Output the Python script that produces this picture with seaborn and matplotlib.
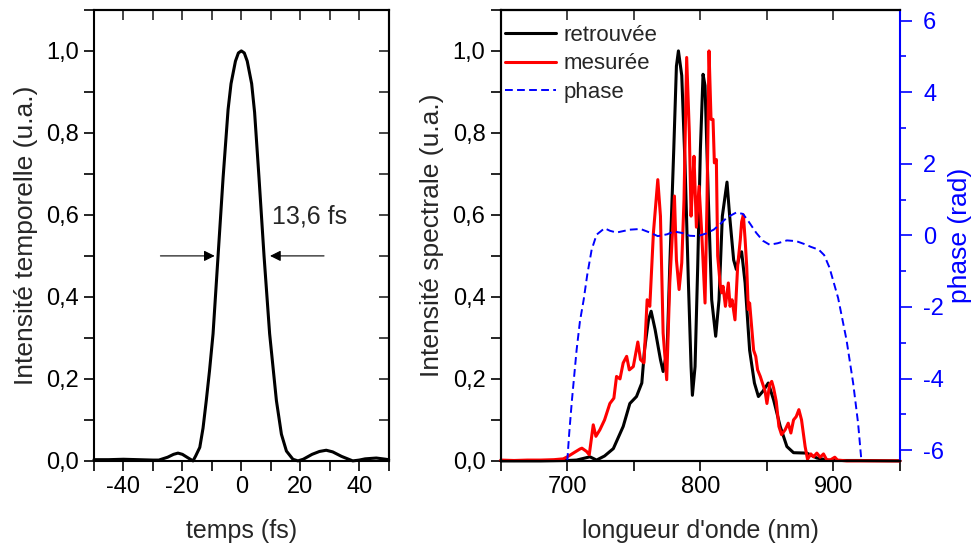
import matplotlib
matplotlib.use("Agg")
import matplotlib.pyplot as plt
from matplotlib.ticker import MultipleLocator, FuncFormatter, NullFormatter
import seaborn as sns

# --- Données ---

# Intensité temporelle (panneau gauche)
t_fs = [-50, -45, -40, -35, -30, -28, -25, -23, -21.5, -20, -18, -16.4, -15.5, -14.1, -13,
        -11.9, -10.8, -9.6, -7.9, -6.2, -4.5, -3.5, -2.0, -1.0, 0, 1.0, 2.0, 3.5, 4.5, 6.0,
        7.7, 9.6, 11.9, 13.6, 15.3, 17.5, 19.2, 21, 24, 26.5, 28.8, 31, 34, 37.8, 40, 42,
        45.8, 48, 50]
I_temp = [0.003, 0.003, 0.004, 0.003, 0.002, 0.002, 0.009, 0.016, 0.019, 0.016, 0.007, 0.0,
          0.012, 0.033, 0.08, 0.147, 0.22, 0.31, 0.5, 0.69, 0.857, 0.92, 0.975, 0.995, 1.0,
          0.995, 0.975, 0.92, 0.85, 0.69, 0.5, 0.31, 0.147, 0.065, 0.024, 0.004, 0.0, 0.004,
          0.016, 0.023, 0.026, 0.022, 0.011, 0.0, 0.002, 0.005, 0.007, 0.005, 0.003]
fwhm_txt = "13,6 fs"

# Spectre retrouvé (noir)
lam_ret = [650, 680, 700, 707, 712, 717, 722, 728, 734.6, 742, 747, 752, 756, 758, 761, 763,
           766, 770, 772, 775, 777, 780, 782, 783.5, 786, 788.5, 791, 793, 794, 796, 798, 800,
           802, 803.5, 806, 808.5, 811.5, 814, 816.5, 820, 822, 825, 827, 829.3, 831, 833.6,
           837, 840.6, 843.6, 847, 851, 855, 860, 865, 870, 880, 887.5, 897.5, 920, 950]
I_ret = [0, 0, 0.001, 0.002, 0.006, 0.01, 0.002, 0.012, 0.03, 0.084, 0.14, 0.157, 0.19, 0.27,
         0.344, 0.365, 0.32, 0.247, 0.218, 0.27, 0.475, 0.76, 0.963, 1.0, 0.94, 0.72, 0.434,
         0.23, 0.16, 0.23, 0.475, 0.76, 0.943, 0.915, 0.637, 0.393, 0.304, 0.393, 0.597, 0.68,
         0.597, 0.49, 0.467, 0.5, 0.51, 0.434, 0.27, 0.19, 0.157, 0.17, 0.19, 0.149, 0.084,
         0.035, 0.02, 0.019, 0.007, 0.001, 0.001, 0]

# Spectre mesuré (rouge)
lam_mes = [650, 660, 670, 680, 690, 697, 700, 704.5, 709.5, 711, 714.5, 716.5, 719.5, 721.5,
           724.5, 728, 732, 735, 737, 739.6, 742, 744.6, 746.6, 749.6, 753, 755, 757.6, 760,
           762, 764.7, 768, 770, 772, 774.7, 777, 780.5, 782, 784, 786, 787.7, 789.7, 791.7,
           793, 794.2, 795.2, 797, 799, 801, 803.5, 805, 806.5, 808, 809.5, 810.5, 812, 813,
           815, 816, 817, 818.8, 821, 822.3, 823.8, 826, 828, 830, 831, 832.3, 833.6, 834.8,
           836, 837, 840, 841.6, 843, 845, 847, 848.6, 850, 852, 853.6, 855, 857, 859, 861,
           863.7, 866, 868, 870, 872, 874, 876, 878.7, 880.5, 883, 885, 887.5, 890, 892.5,
           895, 898, 901, 903, 910, 950]
I_mes = [0.002, 0.001, 0.002, 0.002, 0.003, 0.005, 0.01, 0.019, 0.029, 0.031, 0.023, 0.015,
         0.088, 0.06, 0.076, 0.1, 0.14, 0.153, 0.206, 0.2, 0.239, 0.255, 0.222, 0.23, 0.29,
         0.247, 0.239, 0.393, 0.377, 0.556, 0.686, 0.597, 0.312, 0.198, 0.434, 0.646, 0.49,
         0.418, 0.483, 0.637, 0.984, 0.8, 0.597, 0.678, 0.743, 0.57, 0.67, 0.556, 0.385,
         0.637, 1.0, 0.833, 0.833, 0.727, 0.735, 0.5, 0.426, 0.41, 0.426, 0.377, 0.434,
         0.377, 0.393, 0.344, 0.475, 0.54, 0.583, 0.6, 0.54, 0.475, 0.369, 0.385, 0.27,
         0.255, 0.222, 0.206, 0.186, 0.17, 0.14, 0.186, 0.194, 0.178, 0.145, 0.084, 0.064,
         0.076, 0.092, 0.068, 0.1, 0.108, 0.125, 0.1, 0.035, 0.004, 0.017, 0.01, 0.019,
         0.009, 0.017, 0.002, 0.003, 0.009, 0.002, 0.0, 0.0]

# Phase spectrale (bleu, axe de droite)
lam_ph = [700, 701.5, 703.5, 707, 709.5, 712.3, 715, 718.3, 722, 728, 732, 737, 747, 755, 762,
          768, 775, 780, 786, 792, 798, 804, 810, 815, 820, 827, 832, 836, 842, 847, 852, 858,
          865, 872, 878, 883, 889, 893, 897, 903.5, 909.8, 914.8, 918.5, 921]
phase = [-6.3, -5.5, -4.6, -3.2, -2.4, -1.8, -1.1, -0.4, 0.02, 0.2, 0.13, 0.08, 0.16, 0.18,
         0.08, -0.02, 0.03, 0.11, 0.07, -0.01, -0.02, 0.05, 0.16, 0.32, 0.5, 0.64, 0.6, 0.4,
         0.07, -0.15, -0.26, -0.22, -0.14, -0.16, -0.24, -0.32, -0.4, -0.55, -0.9, -1.75,
         -2.92, -4.13, -5.25, -6.3]

# --- Style ---
sns.set_theme(style="ticks")
plt.rcParams["font.family"] = ["Liberation Sans", "DejaVu Sans"]
plt.rcParams["axes.unicode_minus"] = False

FS = 17      # graduations
FS_X = 18    # titres des axes x
FS_Y = 19    # titres des axes y
LW_AX = 1.5
TL = 7
BLEU = "#0000ff"

virgule = FuncFormatter(lambda v, pos: f"{v:.1f}".replace(".", ","))


def habiller(ax, xmaj, xmin, right_in=True):
    for s in ax.spines.values():
        s.set_linewidth(LW_AX)
        s.set_color("black")
    ax.xaxis.set_major_locator(MultipleLocator(xmaj))
    ax.xaxis.set_minor_locator(MultipleLocator(xmin))
    ax.yaxis.set_major_locator(MultipleLocator(0.2))
    ax.yaxis.set_minor_locator(MultipleLocator(0.1))
    ax.yaxis.set_major_formatter(virgule)
    ax.tick_params(which="both", direction="out", length=TL, width=1.2,
                   labelsize=FS, colors="black", pad=4)
    # graduations internes en haut (et à droite)
    top = ax.secondary_xaxis("top")
    top.xaxis.set_major_locator(MultipleLocator(xmaj))
    top.xaxis.set_minor_locator(MultipleLocator(xmin))
    top.xaxis.set_major_formatter(NullFormatter())
    top.tick_params(which="both", direction="in", length=TL, width=1.2)
    top.spines["top"].set_linewidth(LW_AX)
    if right_in:
        rgt = ax.secondary_yaxis("right")
        rgt.yaxis.set_major_locator(MultipleLocator(0.2))
        rgt.yaxis.set_minor_locator(MultipleLocator(0.1))
        rgt.yaxis.set_major_formatter(NullFormatter())
        rgt.tick_params(which="both", direction="in", length=TL, width=1.2)
        rgt.spines["right"].set_linewidth(LW_AX)


fig = plt.figure(figsize=(9.71, 5.5), dpi=100)
ax1 = fig.add_axes([0.0968, 0.162, 0.3035, 0.820])
ax2 = fig.add_axes([0.5157, 0.162, 0.4112, 0.820])

# --- Panneau gauche : intensité temporelle ---
sns.lineplot(x=t_fs, y=I_temp, ax=ax1, color="black", lw=2.2, estimator=None,
             sort=False, clip_on=False)
ax1.set_xlim(-50, 50)
ax1.set_ylim(0, 1.1)
habiller(ax1, 20, 10)
ax1.set_xlabel("temps (fs)", fontsize=FS_X, labelpad=15)
ax1.set_ylabel("Intensité temporelle (u.a.)", fontsize=FS_Y, labelpad=6)

flèche = dict(arrowstyle="-|>", lw=0.8, color="black", mutation_scale=16)
ax1.annotate("", xy=(-8.1, 0.5), xytext=(-28.4, 0.5), arrowprops=flèche)
ax1.annotate("", xy=(8.8, 0.5), xytext=(29, 0.5), arrowprops=flèche)
ax1.text(10.3, 0.596, fwhm_txt, fontsize=FS + 1, ha="left", va="center")

# --- Panneau droit : spectre et phase ---
sns.lineplot(x=lam_ret, y=I_ret, ax=ax2, color="black", lw=2.2, estimator=None,
             sort=False, label="retrouvée", clip_on=False)
sns.lineplot(x=lam_mes, y=I_mes, ax=ax2, color="#ff0000", lw=2.2, estimator=None,
             sort=False, label="mesurée", clip_on=False)
ax2.set_xlim(650, 950)
ax2.set_ylim(0, 1.1)
habiller(ax2, 100, 50, right_in=False)
ax2.spines["right"].set_visible(False)
ax2.set_xlabel("longueur d'onde (nm)", fontsize=FS_X, labelpad=15)
ax2.set_ylabel("Intensité spectrale (u.a.)", fontsize=FS_Y, labelpad=6)

ax3 = ax2.twinx()
sns.lineplot(x=lam_ph, y=phase, ax=ax3, color=BLEU, lw=1.4, estimator=None,
             sort=False, label="phase", linestyle="--")
ax3.lines[0].set_dashes((4, 2.2))
ax3.set_ylim(-6.3, 6.3)
ax3.yaxis.set_major_locator(MultipleLocator(2))
ax3.yaxis.set_minor_locator(MultipleLocator(1))
for nom, s in ax3.spines.items():
    s.set_linewidth(LW_AX)
    s.set_color(BLEU if nom == "right" else "black")
ax3.tick_params(axis="y", which="major", direction="out", length=8.6, width=1.2,
                colors=BLEU, labelsize=FS, pad=8)
ax3.tick_params(axis="y", which="minor", direction="out", length=4.3, width=1.2, colors=BLEU)
ax3.set_ylabel("phase (rad)", fontsize=FS_Y, color=BLEU, labelpad=3)

# légende commune
ax2.get_legend().remove()
poignées = ax2.get_lines()[:2] + ax3.get_lines()[:1]
ax3.get_legend().remove()
ax3.legend(poignées, ["retrouvée", "mesurée", "phase"], loc="upper left",
           bbox_to_anchor=(0.01, 0.967), frameon=False, fontsize=16, borderpad=0,
           handlelength=2.3, handletextpad=0.35, labelspacing=0.34, borderaxespad=0)

fig.savefig("out.png", dpi=100)
